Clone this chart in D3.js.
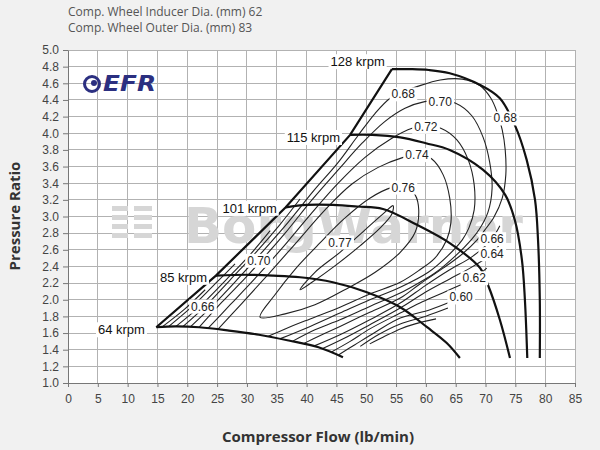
<!DOCTYPE html>
<html>
<head>
<meta charset="utf-8">
<script src="https://cdn.jsdelivr.net/npm/d3@7"></script>
<style>
  body { margin: 0; background: #f1f1f1; }
  svg { display: block; }
  .tick text { font-family: "Liberation Sans", Arial, sans-serif; font-size: 12px; fill: #444; }
  .tick line, .domain { stroke: #777; }
  .eff-label { font-family: "Liberation Sans", Arial, sans-serif; font-size: 12px; fill: #222; }
  .spd-label { font-family: "Liberation Sans", Arial, sans-serif; font-size: 13px; fill: #111; }
  .head { font-family: "Open Sans", sans-serif; font-size: 12px; fill: #555; }
  .axis-title { font-family: "Open Sans", sans-serif; font-size: 15px; font-weight: 700; fill: #333; }
</style>
</head>
<body>
<svg width="600" height="450"></svg>
<script>
// header + ticks
const header = ["Comp. Wheel Inducer Dia. (mm) 62", "Comp. Wheel Outer Dia. (mm) 83"];
const xTicks = [0, 5, 10, 15, 20, 25, 30, 35, 40, 45, 50, 55, 60, 65, 70, 75, 80, 85];
const yTicks = [1.0, 1.2, 1.4, 1.6, 1.8, 2.0, 2.2, 2.4, 2.6, 2.8, 3.0, 3.2, 3.4, 3.6, 3.8, 4.0, 4.2, 4.4, 4.6, 4.8, 5.0];

// surge line and speed lines (flow lb/min, pressure ratio)
const surge = [[14.8,1.67],[24.8,2.29],[36.5,3.11],[47.3,3.98],[54.3,4.77]];
const speed64 = [[14.8,1.67],[18,1.68],[22,1.67],[27,1.63],[32,1.58],[37,1.51],[42,1.43],[46.1,1.31]];
const speed85 = [[24.8,2.29],[30,2.30],[34.4,2.29],[38.9,2.27],[44.4,2.21],[50.1,2.09],[55.7,1.91],[60.2,1.67],[63.5,1.48],[65.7,1.30]];
const speed101 = [[36.5,3.11],[40,3.14],[44.4,3.14],[48.5,3.12],[52.8,3.09],[58.5,2.90],[64.0,2.68],[69.1,2.38],[70.4,2.18],[72.4,1.76],[74.1,1.30]];
const speed115 = [[47.3,3.98],[51,3.98],[55.7,3.95],[60,3.88],[64.0,3.80],[69.6,3.56],[73.3,3.26],[74.9,2.96],[76.1,2.48],[76.6,2.00],[77.0,1.30]];
const speed128 = [[54.3,4.77],[57.3,4.77],[60.5,4.76],[64.0,4.72],[69.1,4.58],[72.4,4.42],[74.9,4.10],[76.9,3.68],[78.3,3.20],[78.8,2.72],[79.1,2.00],[79.1,1.30]];
const speedNames = ["64 krpm", "85 krpm", "101 krpm", "115 krpm", "128 krpm"];
const speedLabelAt = [[12.9,1.64],[23.3,2.27],[35.0,3.10],[45.6,3.95],[53.1,4.86]];

// efficiency islands
const eff77 = [[38.9,2.12],[41.4,2.33],[45.6,2.57],[49.8,2.84],[53.1,3.05],[54.5,3.13],[54.3,3.03],[52.3,2.86],[49.0,2.65],[44.8,2.41],[40.9,2.21]];
const eff76 = [[32.2,1.79],[34.7,2.06],[38.0,2.36],[42.2,2.68],[46.4,2.98],[50.6,3.22],[54.3,3.35],[56.5,3.37],[58.2,3.26],[58.8,3.08],[58.2,2.81],[55.7,2.57],[51.5,2.33],[46.4,2.12],[41.4,1.94],[36.4,1.83]];
const eff74 = [[25.2,1.65],[29.2,1.96],[33.5,2.30],[38.2,2.68],[43.1,3.08],[47.6,3.39],[52.0,3.59],[56.2,3.71],[58.7,3.75],[61.0,3.69],[62.9,3.50],[64.0,3.22],[64.2,2.93],[63.5,2.72],[61.5,2.50],[59.0,2.36],[55.7,2.21],[50.6,2.07],[45.6,1.91],[40.6,1.77],[36.4,1.65],[33.5,1.56]];
const eff72 = [[23.5,1.66],[27.2,1.94],[31.4,2.26],[35.9,2.62],[40.6,3.02],[45.3,3.40],[49.8,3.71],[54.3,3.94],[57.7,4.06],[60.0,4.09],[62.5,4.06],[65.2,3.92],[67.1,3.68],[68.1,3.38],[68.1,3.08],[67.2,2.86],[66.1,2.72],[63.7,2.53],[60.4,2.33],[55.7,2.15],[50.6,2.00],[45.6,1.84],[40.6,1.68],[35.5,1.53]];
const eff70 = [[22.0,1.67],[25.8,1.97],[29.7,2.26],[32.0,2.44],[36.4,2.80],[40.9,3.20],[45.3,3.56],[49.3,3.88],[53.1,4.14],[56.5,4.30],[59.8,4.38],[62.4,4.39],[65.0,4.36],[67.7,4.21],[69.6,3.95],[70.7,3.65],[71.1,3.34],[70.4,3.05],[68.9,2.84],[67.6,2.72],[65.0,2.53],[61.7,2.33],[59.0,2.21],[55.7,2.08],[50.6,1.92],[45.6,1.76],[41.4,1.64],[37.6,1.50]];
const eff68 = [[20.6,1.68],[24.1,1.92],[28.2,2.23],[32.5,2.57],[36.9,2.93],[41.2,3.31],[45.3,3.65],[48.6,3.97],[51.5,4.24],[54.0,4.42],[56.2,4.50],[58.5,4.56],[62.4,4.64],[66.1,4.65],[69.1,4.57],[70.9,4.42],[71.9,4.26],[72.8,4.04],[73.3,3.80],[73.4,3.50],[72.8,3.22],[71.4,2.99],[69.9,2.84],[68.6,2.72],[66.1,2.55],[62.9,2.38],[59.0,2.19],[55.7,2.02],[50.6,1.85],[45.6,1.68],[42.3,1.57],[39.4,1.47]];
const eff66a = [[19.3,1.68],[23.0,1.92],[27.2,2.24],[31.4,2.56],[35.5,2.90],[38.9,3.21]];
const eff64a = [[18.1,1.68],[22.1,1.92],[26.5,2.24],[30.5,2.54],[33.9,2.83]];
const eff62a = [[16.9,1.68],[21.3,1.95],[25.2,2.23],[28.0,2.43]];
const eff60a = [[15.9,1.68],[19.6,1.89],[23.0,2.12]];
const eff66b = [[72.4,2.89],[71.8,2.81],[71.1,2.73],[69.7,2.63],[67.4,2.50],[64.0,2.36],[59.9,2.17],[55.7,1.96],[50.6,1.76],[45.6,1.58],[41.1,1.44]];
const eff64b = [[72.8,2.71],[71.9,2.62],[71.1,2.55],[69.7,2.48],[67.4,2.38],[64.0,2.25],[59.9,2.09],[55.7,1.90],[50.6,1.70],[46.4,1.54],[42.6,1.41]];
const eff62b = [[70.2,2.38],[69.2,2.32],[68.1,2.26],[66.1,2.19],[62.4,2.07],[59.0,1.96],[55.7,1.84],[50.6,1.65],[47.3,1.50],[44.1,1.37]];
const eff60b = [[67.4,2.09],[65.9,2.03],[64.0,1.97],[60.7,1.88],[55.7,1.78],[51.5,1.61],[48.1,1.46],[45.4,1.34]];
const eff58b = [[63.7,1.90],[59.9,1.80],[55.7,1.71],[52.0,1.58],[49.0,1.44]];
const eff56b = [[61.7,1.77],[58.2,1.71],[55.7,1.65],[52.8,1.55],[50.6,1.47]];

const effLabels = ["0.68","0.70","0.72","0.74","0.76","0.77","0.68","0.70","0.66","0.66","0.64","0.62","0.60"];
const effLabelAt = [[56.2,4.47],[62.4,4.38],[60.0,4.08],[58.5,3.74],[56.2,3.35],[45.6,2.69],[73.3,4.18],[32.0,2.47],[22.6,1.92],[71.1,2.73],[71.1,2.55],[68.1,2.26],[65.9,2.03]];

const x = d3.scaleLinear().domain([0, 85]).range([68, 575]);
const y = d3.scaleLinear().domain([1, 5]).range([383, 50]);
const svg = d3.select("svg");

// header
svg.selectAll(".head").data(header).join("text")
  .attr("class", "head").attr("x", 68).attr("y", (d, i) => 16 + i * 16).text(d => d);

// plot area + grid
svg.append("rect").attr("x", x(0)).attr("y", y(5)).attr("width", x(85) - x(0)).attr("height", y(1) - y(5)).attr("fill", "#fff");
const grid = svg.append("g").attr("stroke", "#b2b2b2").attr("shape-rendering", "crispEdges");
grid.selectAll(".gx").data(xTicks.slice(1)).join("line")
  .attr("x1", d => x(d)).attr("x2", d => x(d)).attr("y1", y(1)).attr("y2", y(5));
grid.selectAll(".gy").data(yTicks.slice(1)).join("line")
  .attr("x1", x(0)).attr("x2", x(85)).attr("y1", d => y(d)).attr("y2", d => y(d));

// watermarks
const wm = svg.append("g").attr("fill", "#d6d6d6");
wm.append("text").attr("x", 184).attr("y", 243)
  .style("font-family", "DejaVu Sans").style("font-weight", 700).style("font-size", "50px")
  .text("BorgWarner");
[0, 1, 2, 3].forEach(i => {
  wm.append("rect").attr("x", 112).attr("y", 206 + i * 9).attr("width", 16).attr("height", 5);
  wm.append("rect").attr("x", 134).attr("y", 206 + i * 9).attr("width", 18).attr("height", 5);
});
const logo = svg.append("g");
logo.append("circle").attr("cx", 92).attr("cy", 84).attr("r", 7.5).attr("fill", "none").attr("stroke", "#2b2f80").attr("stroke-width", 3);
logo.append("circle").attr("cx", 94).attr("cy", 83).attr("r", 3).attr("fill", "#2b2f80");
logo.append("text").attr("x", 103).attr("y", 91).attr("textLength", 53).attr("lengthAdjust", "spacingAndGlyphs")
  .style("font-family", "DejaVu Sans").style("font-weight", 700).style("font-style", "italic").style("font-size", "21px")
  .attr("fill", "#2b2f80").text("EFR");

// contours
const line = d3.line().x(d => x(d[0])).y(d => y(d[1])).curve(d3.curveCatmullRom.alpha(0.5));
const loop = d3.line().x(d => x(d[0])).y(d => y(d[1])).curve(d3.curveCatmullRomClosed.alpha(0.5));
const cg = svg.append("g").attr("fill", "none").attr("stroke", "#222").attr("stroke-width", 1.1);
[eff77, eff76].forEach(c => cg.append("path").attr("d", loop(c)));
[eff74, eff72, eff70, eff68, eff66a, eff64a, eff62a, eff60a, eff66b, eff64b, eff62b, eff60b, eff58b, eff56b]
  .forEach(c => cg.append("path").attr("d", line(c)));

// speed lines and surge line
const sg = svg.append("g").attr("fill", "none").attr("stroke", "#111").attr("stroke-width", 2.2);
[speed64, speed85, speed101, speed115, speed128].forEach(s => sg.append("path").attr("d", line(s)));
sg.append("path").attr("d", d3.line().x(d => x(d[0])).y(d => y(d[1]))(surge));

// labels with white background
function boxed(cls, t, p, anchor) {
  const g = svg.append("g");
  const txt = g.append("text").attr("class", cls).attr("x", x(p[0])).attr("y", y(p[1]))
    .attr("dy", "0.35em").attr("text-anchor", anchor).text(t);
  const b = txt.node().getBBox();
  g.insert("rect", "text").attr("x", b.x - 2).attr("y", b.y).attr("width", b.width + 4).attr("height", b.height).attr("fill", "#fff");
}
effLabels.forEach((t, i) => boxed("eff-label", t, effLabelAt[i], "middle"));
speedNames.forEach((t, i) => boxed("spd-label", t, speedLabelAt[i], "end"));

// axes
svg.append("g").attr("transform", `translate(0,${y(1)})`)
  .call(d3.axisBottom(x).tickValues(xTicks).tickSize(4).tickSizeOuter(0).tickPadding(7));
svg.append("g").attr("transform", `translate(${x(0)},0)`)
  .call(d3.axisLeft(y).tickValues(yTicks).tickFormat(d3.format(".1f")).tickSize(5).tickSizeOuter(0).tickPadding(4));

svg.append("text").attr("class", "axis-title").attr("x", 318).attr("y", 442).attr("text-anchor", "middle")
  .text("Compressor Flow (lb/min)");
svg.append("text").attr("class", "axis-title").attr("transform", "translate(20,216) rotate(-90)").attr("text-anchor", "middle")
  .text("Pressure Ratio");
</script>
</body>
</html>
